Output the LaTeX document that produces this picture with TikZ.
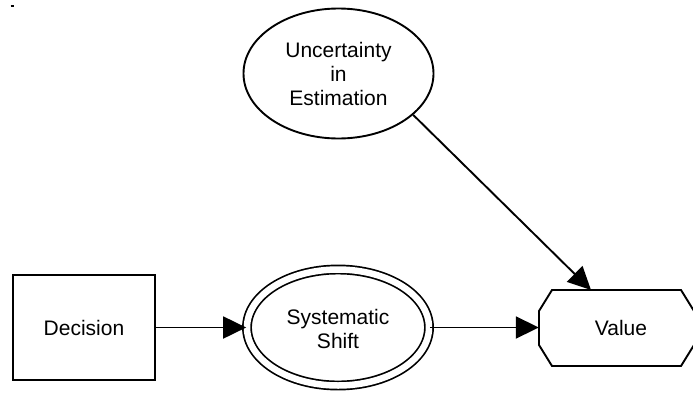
\documentclass[tikz,border=0pt]{standalone}
\usepackage{fontspec}
\setmainfont{Liberation Sans}
\usetikzlibrary{shapes.geometric,arrows.meta}

\begin{document}
\begin{tikzpicture}[x=1pt,y=-1pt,
  every node/.style={font=\fontsize{21pt}{24pt}\selectfont, align=center, inner sep=0pt},
  conn/.style={line width=1.9pt, -{Triangle[length=23pt,width=22pt]}},
  shapeline/.style={draw, line width=1.9pt},
  chance/.style={shapeline, ellipse, minimum width=190pt, minimum height=130pt},
]
\useasboundingbox[fill=white] (0,0) rectangle (693,394);

% small mark in the corner
\draw[line width=1.4pt] (10.5,6) -- (13.5,6);

% decision node
\node[shapeline, rectangle, minimum width=142pt, minimum height=105pt] (dec) at (84,327.5) {Decision};

% chance node
\node[chance] (unc) at (338.5,73.5) {};
\node at (338.5,74) {Uncertainty\\in\\Estimation};

% deterministic node (double ellipse)
\node[ellipse, minimum width=182pt, minimum height=116pt, draw, line width=1.7pt,
      double, double distance=6.5pt] (sys) at (338,327.5) {};
\node at (338,329) {Systematic\\Shift};

% value node (octagon)
\node[minimum width=154pt, minimum height=76pt] (val) at (616,327.5) {};
\draw[shapeline] (552,290) -- (681,290) -- (694,311) -- (694,345) -- (681,366)
  -- (552,366) -- (539,345) -- (539,311) -- cycle;
\node at (621,328) {Value};
\coordinate (valtop) at (591,290);

% influence arcs
\draw[conn] (dec.east) -- (sys.west);
\draw[conn] (sys.east) -- (val.west);
\draw[conn] (unc.-29.5) -- (valtop);
\end{tikzpicture}
\end{document}
